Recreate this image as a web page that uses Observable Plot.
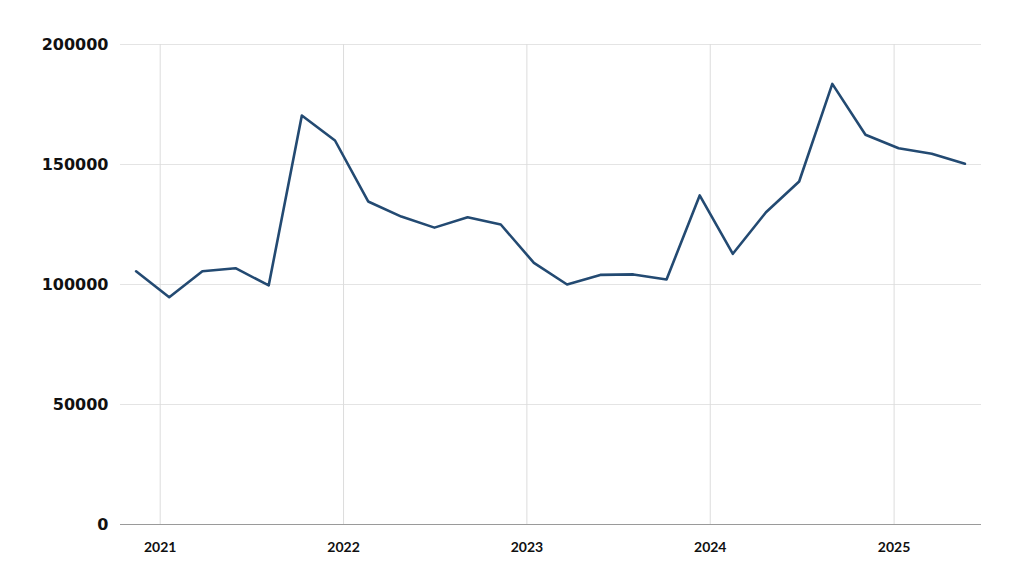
<!DOCTYPE html>
<html>
<head>
<meta charset="utf-8">
<script src="https://cdn.jsdelivr.net/npm/d3@7"></script>
<script src="https://cdn.jsdelivr.net/npm/@observablehq/plot@0.6"></script>
<style>
  html, body { margin: 0; padding: 0; background: #ffffff; }
  #chart { width: 1024px; height: 576px; }
  .yax text { font-family: "DejaVu Sans", sans-serif; font-weight: bold; font-size: 16px; fill: #111; }
  .xax text { font-family: Lato, sans-serif; font-weight: bold; font-size: 14px; fill: #111; }
</style>
</head>
<body>
<div id="chart"></div>
<script>
const dates = [
  "2020-11-14","2021-01-19","2021-03-26","2021-05-31","2021-08-05","2021-10-10",
  "2021-12-15","2022-02-19","2022-04-26","2022-07-01","2022-09-05","2022-11-10",
  "2023-01-15","2023-03-22","2023-05-27","2023-08-01","2023-10-06","2023-12-11",
  "2024-02-15","2024-04-21","2024-06-26","2024-08-31","2024-11-05","2025-01-10",
  "2025-03-17","2025-05-22"
];
const values = [
  105500, 94700, 105500, 106800, 99600, 170400,
  160000, 134600, 128300, 123700, 128000, 125000,
  109000, 100000, 104000, 104200, 102100, 137100,
  112800, 130100, 142900, 183600, 162400, 156800,
  154500, 150300
];
const yTicks = [0, 50000, 100000, 150000, 200000];
const xTicks = ["2021-01-01","2022-01-01","2023-01-01","2024-01-01","2025-01-01"];

const data = dates.map((d, i) => ({date: new Date(d), value: values[i]}));
const xTickDates = xTicks.map(d => new Date(d));

const chart = Plot.plot({
  width: 1024,
  height: 576,
  marginLeft: 120,
  marginRight: 43,
  marginTop: 44,
  marginBottom: 52,
  x: {type: "utc", domain: [new Date("2020-10-14"), new Date("2025-06-24")]},
  y: {domain: [0, 200000]},
  marks: [
    Plot.gridY(yTicks, {stroke: "#e4e4e4", strokeOpacity: 1, strokeWidth: 1}),
    Plot.gridX(xTickDates, {stroke: "#dcdcdc", strokeOpacity: 1, strokeWidth: 1}),
    Plot.ruleY([0], {stroke: "#9a9a9a", strokeWidth: 1}),
    Plot.axisY(yTicks, {tickSize: 0, tickPadding: 12, tickFormat: d => String(d), label: null, className: "yax"}),
    Plot.axisX(xTickDates, {tickSize: 0, tickPadding: 18, tickFormat: d3.utcFormat("%Y"), label: null, className: "xax"}),
    Plot.lineY(data, {x: "date", y: "value", stroke: "#234a72", strokeWidth: 2.6, curve: "linear"})
  ]
});
document.getElementById("chart").appendChild(chart);
</script>
</body>
</html>
